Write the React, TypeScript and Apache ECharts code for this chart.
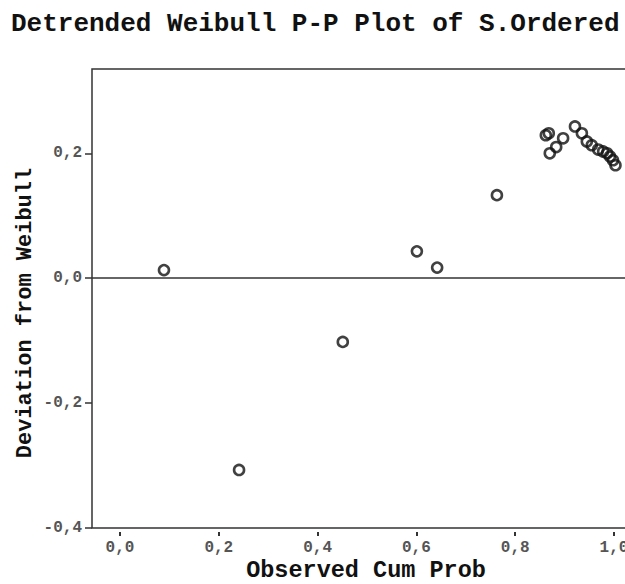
import React, { useEffect, useRef } from "react";
import * as echarts from "echarts";

const titleText = "Detrended Weibull P-P Plot of S.Ordered";
const xAxisTitle = "Observed Cum Prob";
const yAxisTitle = "Deviation from Weibull";

const xTicks = [0, 0.2, 0.4, 0.6, 0.8, 1.0];
const yTicks = [-0.4, -0.2, 0, 0.2];

const observedCumProb = [
  0.089, 0.241, 0.451, 0.601, 0.642, 0.763, 0.862, 0.868, 0.87, 0.883, 0.897,
  0.921, 0.935, 0.945, 0.955, 0.968, 0.978, 0.986, 0.992, 0.998, 1.003,
];
const deviation = [
  0.013, -0.307, -0.102, 0.043, 0.017, 0.133, 0.229, 0.232, 0.2, 0.21, 0.224,
  0.243, 0.232, 0.219, 0.213, 0.206, 0.203, 0.2, 0.195, 0.189, 0.181,
];

const X_MIN = -0.0567;
const X_MAX = 1.0567;
const Y_MIN = -0.4;
const Y_MAX = 0.335;

const fmt = (v: number) => v.toFixed(1).replace(".", ",");
const FONT = "'Liberation Mono', 'DejaVu Sans Mono', monospace";

export default function App() {
  const ref = useRef<HTMLDivElement>(null);
  useEffect(() => {
    if (!ref.current) return;
    const chart = echarts.init(ref.current, null, { renderer: "svg" });
    const points = observedCumProb.map((x, i) => [x, deviation[i]]);
    chart.setOption({
      animation: false,
      backgroundColor: "#ffffff",
      title: {
        text: titleText,
        left: 6,
        top: 6,
        textStyle: {
          fontFamily: FONT,
          fontWeight: "bold",
          fontSize: 26,
          color: "#111",
        },
      },
      grid: {
        left: 92,
        top: 69,
        bottom: 56,
        right: -17,
        containLabel: false,
        outerBoundsMode: "none",
        show: true,
        borderColor: "#333",
        borderWidth: 1.5,
        backgroundColor: "transparent",
      },
      xAxis: [
        {
          type: "value",
          min: X_MIN,
          max: X_MAX,
          axisLine: { show: false, onZero: false },
          axisTick: { show: false },
          axisLabel: { show: false },
          splitLine: { show: false },
        },
        {
          type: "value",
          position: "bottom",
          offset: 4,
          min: X_MIN,
          max: X_MAX,
          axisLine: { show: false, onZero: false },
          splitLine: { show: false },
          axisTick: {
            show: true,
            length: 4,
            customValues: xTicks,
            lineStyle: { color: "#333", width: 2 },
          },
          axisLabel: {
            customValues: xTicks,
            formatter: fmt,
            margin: 8,
            fontFamily: FONT,
            fontSize: 16,
            fontWeight: "bold",
            color: "#555",
          },
        },
      ],
      yAxis: {
        type: "value",
        position: "left",
        min: Y_MIN,
        max: Y_MAX,
        axisLine: { show: false, onZero: false },
        splitLine: { show: false },
        axisTick: {
          show: true,
          length: 7,
          customValues: yTicks,
          lineStyle: { color: "#333", width: 1.5 },
        },
        axisLabel: {
          customValues: yTicks,
          formatter: fmt,
          margin: 10,
          fontFamily: FONT,
          fontSize: 16,
          fontWeight: "bold",
          color: "#555",
        },
      },
      graphic: [
        {
          type: "text",
          x: 366,
          y: 570,
          style: {
            text: xAxisTitle,
            fontFamily: FONT,
            fontWeight: "bold",
            fontSize: 23.5,
            fill: "#111",
            textAlign: "center",
            textVerticalAlign: "middle",
          },
        },
        {
          type: "text",
          x: 25,
          y: 313,
          rotation: Math.PI / 2,
          style: {
            text: yAxisTitle,
            fontFamily: FONT,
            fontWeight: "bold",
            fontSize: 22,
            fill: "#111",
            textAlign: "center",
            textVerticalAlign: "middle",
          },
        },
      ],
      series: [
        {
          type: "scatter",
          xAxisIndex: 0,
          data: points,
          symbol: "circle",
          symbolSize: 10,
          itemStyle: {
            color: "rgba(0,0,0,0)",
            borderColor: "#111",
            borderWidth: 2.6,
          },
          markLine: {
            silent: true,
            symbol: "none",
            label: { show: false },
            lineStyle: { color: "#333", width: 1.5, type: "solid" },
            data: [{ yAxis: 0 }],
          },
        },
      ],
    });
    return () => chart.dispose();
  }, []);
  return (
    <div
      ref={ref}
      style={{ position: "fixed", left: 0, top: 0, width: 625, height: 584 }}
    />
  );
}
